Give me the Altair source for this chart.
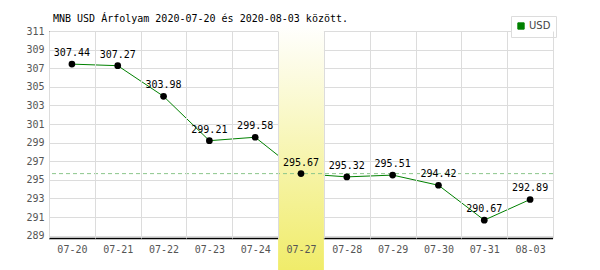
import altair as alt
import pandas as pd

dates = ["07-20", "07-21", "07-22", "07-23", "07-24", "07-27",
         "07-28", "07-29", "07-30", "07-31", "08-03"]
rates = [307.44, 307.27, 303.98, 299.21, 299.58, 295.67,
         295.32, 295.51, 294.42, 290.67, 292.89]
series_name = "USD"
highlight_date = "07-27"
reference_value = 295.67
y_ticks = list(range(289, 312, 2))
y_domain = [288.75, 311]
title_text = "MNB USD Árfolyam 2020-07-20 és 2020-08-03 között."

df = pd.DataFrame({"date": dates, "rate": rates})
df["series"] = series_name
df["label"] = df["rate"].map(lambda v: f"{v:.2f}")
one = pd.DataFrame({"bottom": [y_domain[0]], "ref": [reference_value],
                    "title": [title_text]})

W, H = 504, 207
MONO = "DejaVu Sans Mono"
GRID = "#dcdcdc"

x_enc = alt.X(
    "date:N", sort=dates,
    scale=alt.Scale(type="band", paddingInner=0, paddingOuter=0),
    axis=alt.Axis(title=None, labelAngle=0, tickBand="extent", grid=True,
                  gridColor=GRID, domain=False, ticks=False, labelPadding=6,
                  zindex=1, labelFont=MONO, labelFontSize=10, labelColor="#555"),
)
y_scale = alt.Scale(domain=y_domain, nice=False, zero=False)
y_axis = alt.Axis(title=None, values=y_ticks, grid=True, gridColor=GRID,
                  ticks=False, domainColor="black", domainWidth=1,
                  labelOverlap=False, labelFlush=False,
                  labelPadding=5, labelFont=MONO, labelFontSize=10,
                  labelColor="#555")
y_enc = alt.Y("rate:Q", scale=y_scale, axis=y_axis)

base = alt.Chart(df)
single = alt.Chart(one)

title_mark = single.mark_text(
    font=MONO, fontSize=10, color="black", align="left", baseline="alphabetic"
).encode(x=alt.value(4), y=alt.value(-9), text="title:N")

bottom_line = single.mark_rule(color="black", strokeWidth=1.5, yOffset=0.5).encode(
    y=alt.Y("bottom:Q", scale=y_scale, axis=y_axis)
)

gradient = alt.Gradient(
    gradient="linear",
    stops=[alt.GradientStop(color="#ffffff", offset=0),
           alt.GradientStop(color="#f0ec6a", offset=1)],
    x1=0, x2=0, y1=0, y2=1,
)
band = base.transform_filter(alt.datum.date == highlight_date).mark_rect(
    fill=gradient, y=-7, y2=H + 32
).encode(x=x_enc)

ref = single.mark_rule(color="#8cc68c", strokeDash=[4, 3], strokeWidth=1).encode(
    y=alt.Y("ref:Q", scale=y_scale, axis=y_axis)
)

line = base.mark_line(strokeWidth=1).encode(
    x=x_enc, y=y_enc,
    color=alt.Color(
        "series:N",
        scale=alt.Scale(domain=[series_name], range=["#008000"]),
        legend=alt.Legend(
            title=None, orient="none", legendX=462, legendY=-15,
            symbolType="square", symbolSize=40, symbolFillColor="#008000",
            symbolStrokeColor="#1a4a1a", symbolStrokeWidth=1,
            labelFont="DejaVu Sans", labelFontSize=10, labelColor="#444",
            fillColor="white", strokeColor=GRID, padding=5, labelOffset=3,
        ),
    ),
)

points = base.mark_circle(color="black", size=45, opacity=1).encode(
    x=x_enc, y=y_enc
)

labels = base.mark_text(font=MONO, fontSize=10, dy=-8, baseline="alphabetic",
                        color="black").encode(x=x_enc, y=y_enc, text="label")

chart = alt.layer(line, bottom_line, band, ref, points, labels, title_mark).properties(
    width=W, height=H,
    padding={"left": 49, "top": 31, "right": 47, "bottom": 32},
    autosize="none",
).configure_view(stroke=None)

chart.save("out.html", embed_options={"renderer": "svg", "actions": False})
